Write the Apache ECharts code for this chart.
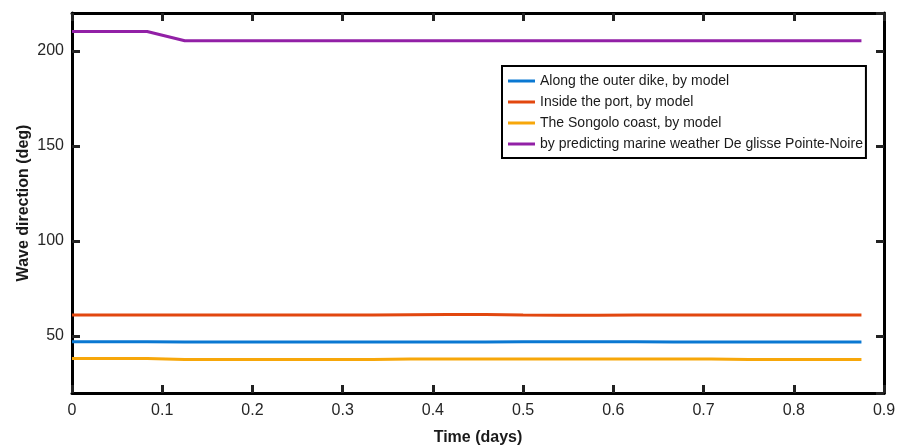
<!DOCTYPE html>
<html>
<head>
<meta charset="utf-8">
<script src="https://cdn.jsdelivr.net/npm/echarts@6/dist/echarts.min.js"></script>
<style>
  html, body { margin: 0; padding: 0; background: #fff; }
  #chart { width: 909px; height: 448px; }
</style>
</head>
<body>
<div id="chart"></div>
<script>
// time in days (hourly samples)
const times = [0, 0.0417, 0.0833, 0.125, 0.1667, 0.2083, 0.25, 0.2917, 0.3333, 0.375, 0.4167,
  0.4583, 0.5, 0.5417, 0.5833, 0.625, 0.6667, 0.7083, 0.75, 0.7917, 0.8333, 0.875];

const outerDike = [47.0, 47.0, 47.0, 46.8, 46.8, 46.8, 46.8, 46.8, 46.8, 46.8, 46.8,
  46.9, 47.0, 47.0, 47.0, 47.0, 46.9, 46.9, 46.9, 46.9, 46.9, 46.9];
const insidePort = [61.1, 61.1, 61.1, 61.1, 61.1, 61.1, 61.1, 61.1, 61.1, 61.2, 61.3,
  61.3, 61.0, 60.9, 60.9, 61.0, 61.0, 61.0, 61.0, 61.0, 61.0, 61.0];
const songoloCoast = [38.1, 38.1, 38.1, 37.6, 37.6, 37.6, 37.6, 37.6, 37.6, 37.9, 37.9,
  37.9, 37.9, 37.9, 37.9, 37.9, 37.9, 37.9, 37.6, 37.6, 37.6, 37.6];
const marineWeather = [210.3, 210.3, 210.3, 205.4, 205.4, 205.4, 205.4, 205.4, 205.4, 205.4, 205.4,
  205.4, 205.4, 205.4, 205.4, 205.4, 205.4, 205.4, 205.4, 205.4, 205.4, 205.4];

const seriesNames = [
  "Along the outer dike, by model",
  "Inside the port, by model",
  "The Songolo coast, by model",
  "by predicting marine weather De glisse Pointe-Noire",
];
const seriesValues = [outerDike, insidePort, songoloCoast, marineWeather];
const color = ["#0a78d2", "#e2470f", "#f7a70a", "#9220a6"];

const font = "'Liberation Sans', Arial, sans-serif";
const axisLine = { show: true, onZero: false, lineStyle: { color: "#000", width: 3 } };
const axisTick = { show: true, inside: true, length: 8, lineStyle: { color: "#222", width: 3 } };

const myChart = echarts.init(document.getElementById("chart"));

const option = {
  backgroundColor: "#fff",
  animation: false,
  grid: { left: 72, right: 25, top: 13, bottom: 55, outerBoundsMode: "none" },
  legend: {
    orient: "vertical",
    left: 502,
    top: 66,
    padding: [7, 3, 6, 6],
    itemWidth: 27,
    itemHeight: 3,
    itemGap: 5,
    icon: "rect",
    borderColor: "#000",
    borderWidth: 2,
    backgroundColor: "#fff",
    textStyle: { fontFamily: font, fontSize: 14, color: "#1a1a1a", lineHeight: 16 },
    data: seriesNames,
  },
  xAxis: [
    {
      type: "value",
      min: 0,
      max: 0.9,
      interval: 0.1,
      name: "Time (days)",
      nameLocation: "middle",
      nameGap: 37,
      nameTextStyle: { fontFamily: font, fontSize: 16, fontWeight: "bold", color: "#1a1a1a" },
      axisLine,
      axisTick,
      axisLabel: { fontFamily: font, fontSize: 16, color: "#262626", margin: 10 },
      splitLine: { show: false },
    },
    {
      type: "value",
      position: "top",
      min: 0,
      max: 0.9,
      interval: 0.1,
      axisLine,
      axisTick,
      axisLabel: { show: false },
      splitLine: { show: false },
    },
  ],
  yAxis: [
    {
      type: "value",
      min: 20,
      max: 220,
      splitNumber: 5,
      name: "Wave direction (deg)",
      nameLocation: "middle",
      nameGap: 40,
      nameMoveOverlap: false,
      nameTextStyle: { fontFamily: font, fontSize: 16, fontWeight: "bold", color: "#1a1a1a" },
      axisLine,
      axisTick,
      axisLabel: {
        fontFamily: font,
        fontSize: 16,
        color: "#262626",
        margin: 8,
        showMinLabel: false,
        showMaxLabel: false,
        formatter: (v) => (v % 50 === 0 ? String(v) : ""),
      },
      splitLine: { show: false },
    },
    {
      type: "value",
      position: "right",
      min: 20,
      max: 220,
      splitNumber: 5,
      axisLine,
      axisTick,
      axisLabel: { show: false },
      splitLine: { show: false },
    },
  ],
  series: seriesNames.map((name, index) => {
    return {
      name,
      type: "line",
      symbol: "none",
      smooth: false,
      color: color[index],
      lineStyle: { width: 3, color: color[index] },
      data: times.map((t, i) => [t, seriesValues[index][i]]),
    };
  }),
};

myChart.setOption(option);
</script>
</body>
</html>
